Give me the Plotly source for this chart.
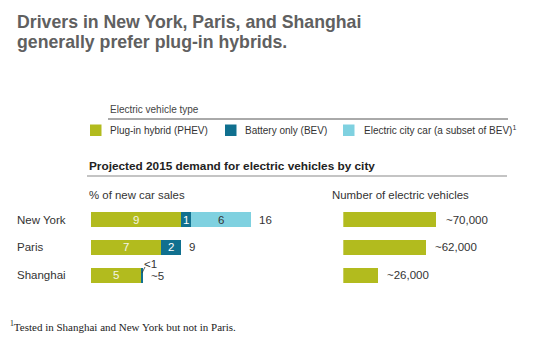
import plotly.graph_objects as go

# ---------------- data ----------------
cities = ["New York", "Paris", "Shanghai"]
series_names = ["Plug-in hybrid (PHEV)", "Battery only (BEV)", "Electric city car (a subset of BEV)<sup>1</sup>"]
phev = [9, 7, 5]
bev = [1, 2, 0.2]
city_car = [6, 0, 0]
phev_labels = ["9", "7", "5"]
bev_labels = ["1", "2", ""]
city_labels = ["6", "", ""]
total_labels = ["16", "9", "~5"]
small_label = "<1"
ev_count = [70000, 62000, 26000]
ev_labels = ["~70,000", "~62,000", "~26,000"]

title_lines = ["Drivers in New York, Paris, and Shanghai", "generally prefer plug-in hybrids."]
legend_title = "Electric vehicle type"
section_title = "Projected 2015 demand for electric vehicles by city"
left_header = "% of new car sales"
right_header = "Number of electric vehicles"
footnote = "<sup>1</sup>Tested in Shanghai and New York but not in Paris."

# ---------------- style ----------------
W, H = 545, 351
C_PHEV = "#b2bb1e"
C_BEV = "#10708f"
C_CITY = "#7fd1e0"
TXT = "#333333"
SANS = "Liberation Sans, Arial, sans-serif"
SERIF = "Liberation Serif, Times New Roman, serif"


def px(x):
    return x / W


def py(y):
    return 1 - y / H


fig = go.Figure()
bar_w = 0.54
segments = [
    (phev, phev_labels, C_PHEV, "#f4f5e4", series_names[0]),
    (bev, bev_labels, C_BEV, "#ffffff", series_names[1]),
    (city_car, city_labels, C_CITY, TXT, series_names[2]),
]
for vals, labs, col, tcol, name in segments:
    fig.add_trace(go.Bar(y=cities, x=vals, orientation="h", marker=dict(color=col, line_width=0),
                         width=bar_w, xaxis="x", yaxis="y", name=name, hoverinfo="skip"))
fig.add_trace(go.Bar(y=cities, x=ev_count, orientation="h", marker=dict(color=C_PHEV, line_width=0),
                     width=bar_w, xaxis="x2", yaxis="y2", hoverinfo="skip", showlegend=False))

y_dom = [py(288.85), py(205.75)]
axis_common = dict(showgrid=False, zeroline=False, showticklabels=False, showline=False, ticks="",
                   fixedrange=True)
fig.update_layout(
    width=W, height=H, margin=dict(l=0, r=0, t=0, b=0),
    paper_bgcolor="white", plot_bgcolor="rgba(0,0,0,0)",
    barmode="stack", showlegend=False, bargap=0,
    xaxis=dict(domain=[px(90.7), px(290.7)], range=[0, 20], anchor="y", **axis_common),
    yaxis=dict(domain=y_dom, type="category", categoryarray=cities, range=[2.5, -0.5],
               anchor="x", **axis_common),
    xaxis2=dict(domain=[px(343.3), px(476.6)], range=[0, 100000], anchor="y2", **axis_common),
    yaxis2=dict(domain=y_dom, type="category", categoryarray=cities, range=[2.5, -0.5],
                anchor="x2", **axis_common),
)

ann = []
shapes = []

# titles
for text, yc in zip(title_lines, [22.5, 42.5]):
    ann.append(dict(text=text, x=px(15), y=py(yc), xref="paper", yref="paper", xanchor="left",
                    yanchor="middle", showarrow=False,
                    font=dict(family=SANS, size=17.7, color="#606060", weight=700)))

# legend
ann.append(dict(text=legend_title, x=px(108), y=py(109.5), xref="paper", yref="paper", xanchor="left",
                yanchor="middle", showarrow=False, font=dict(family=SANS, size=10, color="#444444")))
shapes.append(dict(type="line", xref="paper", yref="paper", x0=px(108), x1=px(508), y0=py(119), y1=py(119),
                   line=dict(color="#555555", width=1)))
for name, col, sx, tx in zip(series_names, [C_PHEV, C_BEV, C_CITY], [90, 225, 343], [108, 243, 362]):
    shapes.append(dict(type="rect", xref="paper", yref="paper", x0=px(sx), x1=px(sx + 11.5),
                       y0=py(136), y1=py(124.5), fillcolor=col, line_width=0))
    ann.append(dict(text=name, x=px(tx), y=py(130.3), xref="paper", yref="paper", xanchor="left",
                    yanchor="middle", showarrow=False, font=dict(family=SANS, size=10, color=TXT)))

# section heading
ann.append(dict(text=section_title, x=px(87), y=py(165.5), xref="paper", yref="paper", xanchor="left",
                yanchor="middle", showarrow=False, font=dict(family=SANS, size=11.8, color="#222222", weight=700)))
shapes.append(dict(type="line", xref="paper", yref="paper", x0=px(87), x1=px(507), y0=py(176), y1=py(176),
                   line=dict(color="#c4c4c4", width=2)))
ann.append(dict(text=left_header, x=px(87), y=py(195.2), xref="paper", yref="paper", xanchor="left",
                yanchor="middle", showarrow=False, font=dict(family=SANS, size=11.4, color=TXT)))
ann.append(dict(text=right_header, x=px(330), y=py(195.2), xref="paper", yref="paper", xanchor="left",
                yanchor="middle", showarrow=False, font=dict(family=SANS, size=11.4, color=TXT)))

# city labels
for i, c in enumerate(cities):
    ann.append(dict(text=c, x=px(15), y=i, xref="paper", yref="y", xanchor="left", yanchor="middle",
                    showarrow=False, font=dict(family=SANS, size=11.5, color=TXT)))

# segment labels (centred in each stacked segment)
for i in range(len(cities)):
    start = 0
    for vals, labs, col, tcol, name in segments:
        v = vals[i]
        if labs[i]:
            ann.append(dict(text=labs[i], x=start + v / 2, y=i, xref="x", yref="y", xanchor="center",
                            yanchor="middle", showarrow=False,
                            font=dict(family=SANS, size=11.5, color=tcol)))
        start += v

# totals
for i, (a, b, c, lab) in enumerate(zip(phev, bev, city_car, total_labels)):
    tot = a + b + c
    ann.append(dict(text=lab, x=tot, y=i + (0.04 if lab.startswith("~") else 0), xref="x", yref="y",
                    xanchor="left", yanchor="middle", xshift=6.5, showarrow=False,
                    font=dict(family=SANS, size=11.5, color=TXT)))

# "<1" callout for Shanghai BEV
si = 2
sx_end = phev[si] + bev[si]
ann.append(dict(text=small_label, x=sx_end - 0.07, y=si - 0.415, xref="x", yref="y", xanchor="left",
                yanchor="middle", showarrow=False, font=dict(family=SANS, size=11.5, color=TXT)))
shapes.append(dict(type="line", xref="x", yref="y", x0=sx_end - 0.07, x1=sx_end + 0.23,
                   y0=si - 0.07, y1=si - 0.29, line=dict(color=TXT, width=0.8)))

# right labels
for i, lab in enumerate(ev_labels):
    ann.append(dict(text=lab, x=ev_count[i], y=i, xref="x2", yref="y2", xanchor="left", yanchor="middle",
                    xshift=7, showarrow=False, font=dict(family=SANS, size=11.5, color=TXT)))

# footnote
ann.append(dict(text=footnote, x=px(8), y=py(326.3), xref="paper", yref="paper", xanchor="left",
                yanchor="middle", showarrow=False, font=dict(family=SERIF, size=11, color="#222222")))

fig.update_layout(annotations=ann, shapes=shapes)
fig.write_html("out.html")
